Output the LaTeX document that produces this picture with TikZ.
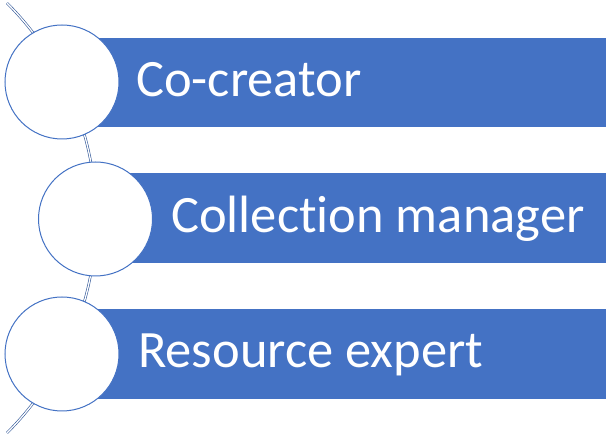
\documentclass[tikz,border=0pt]{standalone}
\usepackage{fontspec}
\setmainfont{Carlito}[Ligatures={NoCommon}]
\definecolor{barblue}{RGB}{68,114,196}
\definecolor{arcblue}{RGB}{47,85,151}
\begin{document}
\begin{tikzpicture}[x=1pt,y=1pt,
  disc/.style={circle,fill=white,draw=barblue,line width=1pt,minimum size=114pt,inner sep=0pt},
  label/.style={text=white,anchor=base west,inner sep=0pt,font=\fontsize{52.5}{62}\selectfont},
  spine/.style={draw=arcblue,double=white,line width=0.6pt,double distance=1.3pt}]
\useasboundingbox (0,0) rectangle (606,436);
% spine arc behind everything
\coordinate (ctr) at (-208,218);
\draw[spine] ([shift={(45:304)}]ctr) arc[start angle=45,end angle=-45,radius=304];
% bars
\fill[barblue] (62,309) rectangle (606,398);
\fill[barblue] (95.5,173) rectangle (606,263);
\fill[barblue] (62,37) rectangle (606,127);
% circles
\node[disc] (c1) at (62,354) {};
\node[disc] (c2) at (95.5,217) {};
\node[disc] (c3) at (62,82) {};
% labels
\node[label] (t1) at (136,339) {Co-creator};
\node[label] (t2) at (171,203) {Collection manager};
\node[label] (t3) at (138,68) {Resource expert};
\end{tikzpicture}
\end{document}
